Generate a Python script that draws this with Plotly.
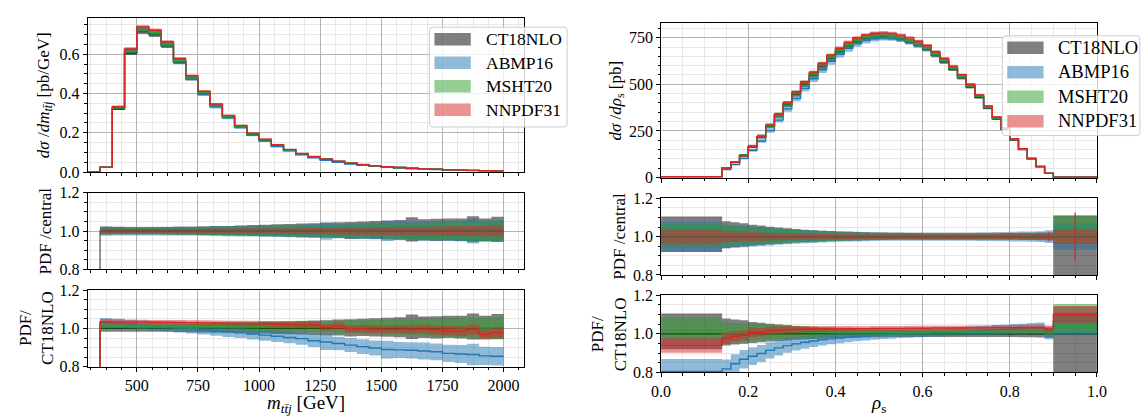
import plotly.graph_objects as go

W, H = 1142, 418

# ---------------- left panel data: m_ttj ----------------
m_edges = [300, 350, 400, 450, 500, 550, 600, 650, 700, 750, 800, 850, 900, 950,
           1000, 1050, 1100, 1150, 1200, 1250, 1300, 1350, 1400, 1450, 1500, 1550,
           1600, 1650, 1700, 1750, 1800, 1850, 1900, 1950, 2000]
ct18_m = [0.0, 0.024, 0.322, 0.607, 0.716, 0.700, 0.643, 0.561, 0.477, 0.400,
          0.337, 0.281, 0.232, 0.193, 0.163, 0.136, 0.113, 0.093, 0.078, 0.065,
          0.054, 0.045, 0.038, 0.032, 0.027, 0.023, 0.019, 0.016, 0.014, 0.012,
          0.010, 0.0085, 0.0072, 0.0062]
abmp_m_ratio = [0.0, 1.028, 1.026, 1.022, 1.018, 1.013, 1.008, 1.003, 0.998, 0.993,
                0.988, 0.982, 0.977, 0.971, 0.965, 0.959, 0.953, 0.947, 0.936, 0.929,
                0.921, 0.913, 0.905, 0.898, 0.890, 0.888, 0.886, 0.882, 0.878, 0.870,
                0.867, 0.864, 0.857, 0.855]
msht_m_ratio = [0.0, 1.015, 1.016, 1.015, 1.014, 1.015, 1.014, 1.013, 1.014, 1.013,
                1.012, 1.013, 1.012, 1.011, 1.012, 1.011, 1.010, 1.011, 1.009, 1.010,
                1.008, 1.009, 1.007, 1.008, 1.006, 1.007, 1.005, 1.006, 1.004, 1.005,
                1.003, 1.004, 1.002, 1.003]
nnpdf_m_ratio = [0.0, 1.035, 1.034, 1.033, 1.033, 1.032, 1.032, 1.031, 1.030, 1.029,
                 1.028, 1.027, 1.026, 1.025, 1.024, 1.022, 1.020, 1.018, 1.018, 1.006,
                 1.012, 0.998, 0.997, 0.996, 0.995, 0.995, 0.994, 0.996, 0.992, 0.988,
                 0.986, 0.994, 0.968, 0.978]
ct18_m_up = [0.0, 0.022, 0.021, 0.020, 0.020, 0.020, 0.021, 0.022, 0.023, 0.024,
             0.026, 0.027, 0.029, 0.031, 0.033, 0.035, 0.037, 0.039, 0.041, 0.043,
             0.046, 0.048, 0.050, 0.053, 0.055, 0.058, 0.072, 0.062, 0.064, 0.066,
             0.066, 0.078, 0.066, 0.075]
ct18_m_dn = [0.0, 0.018, 0.017, 0.017, 0.017, 0.017, 0.018, 0.019, 0.020, 0.021,
             0.022, 0.023, 0.024, 0.026, 0.027, 0.029, 0.030, 0.032, 0.034, 0.035,
             0.037, 0.042, 0.040, 0.042, 0.044, 0.046, 0.055, 0.050, 0.052, 0.050,
             0.052, 0.058, 0.054, 0.056]
abmp_m_rel = [0.0, 0.025, 0.024, 0.023, 0.023, 0.023, 0.023, 0.024, 0.024, 0.025,
              0.026, 0.027, 0.028, 0.029, 0.030, 0.031, 0.032, 0.034, 0.035, 0.045,
              0.038, 0.040, 0.042, 0.043, 0.052, 0.047, 0.048, 0.050, 0.050, 0.052,
              0.054, 0.065, 0.055, 0.057]
msht_m_rel = [0.0, 0.018, 0.017, 0.017, 0.017, 0.017, 0.018, 0.018, 0.019, 0.020,
              0.021, 0.022, 0.023, 0.024, 0.025, 0.026, 0.027, 0.028, 0.029, 0.030,
              0.032, 0.033, 0.034, 0.036, 0.038, 0.040, 0.042, 0.044, 0.046, 0.048,
              0.050, 0.052, 0.053, 0.055]
nnpdf_m_rel = [0.0, 0.013, 0.013, 0.012, 0.012, 0.012, 0.012, 0.012, 0.012, 0.013,
               0.013, 0.013, 0.014, 0.014, 0.014, 0.015, 0.015, 0.016, 0.017, 0.017,
               0.018, 0.019, 0.019, 0.020, 0.021, 0.022, 0.022, 0.023, 0.024, 0.025,
               0.026, 0.027, 0.028, 0.029]
stat_m = [0.0, 0.002, 0.001, 0.001, 0.001, 0.001, 0.001, 0.001, 0.001, 0.0015,
          0.0015, 0.0015, 0.002, 0.002, 0.002, 0.002, 0.0025, 0.0025, 0.003, 0.003,
          0.0035, 0.004, 0.004, 0.0045, 0.005, 0.005, 0.0055, 0.006, 0.006, 0.0065,
          0.007, 0.0075, 0.008, 0.0085]

# ---------------- right panel data: rho_s ----------------
rho_edges = [0.0, 0.14, 0.16, 0.18, 0.20, 0.22, 0.24, 0.26, 0.28, 0.30, 0.32, 0.34,
             0.36, 0.38, 0.40, 0.42, 0.44, 0.46, 0.48, 0.50, 0.52, 0.54, 0.56, 0.58,
             0.60, 0.62, 0.64, 0.66, 0.68, 0.70, 0.72, 0.74, 0.76, 0.78, 0.80, 0.82,
             0.84, 0.86, 0.88, 0.90, 1.0]
ct18_r = [4, 52, 82, 118, 165, 218, 275, 332, 392, 448,
          500, 550, 597, 640, 676, 706, 729, 745, 753, 755,
          752, 743, 728, 710, 688, 655, 620, 580, 535, 485,
          430, 372, 315, 258, 202, 150, 100, 58, 22, 1.5]
abmp_r_ratio = [0.805, 0.818, 0.845, 0.868, 0.884, 0.898, 0.914, 0.927, 0.939, 0.948,
                0.956, 0.963, 0.969, 0.974, 0.978, 0.982, 0.986, 0.989, 0.992, 0.995,
                0.997, 0.999, 1.001, 1.003, 1.005, 1.007, 1.009, 1.011, 1.013, 1.015,
                1.017, 1.019, 1.021, 1.023, 1.025, 1.026, 1.028, 1.030, 1.005, 1.067]
msht_r_ratio = [1.020, 1.000, 1.001, 1.002, 1.004, 1.005, 1.006, 1.007, 1.008, 1.008,
                1.009, 1.009, 1.010, 1.010, 1.010, 1.010, 1.010, 1.010, 1.010, 1.010,
                1.010, 1.010, 1.010, 1.010, 1.010, 1.010, 1.011, 1.011, 1.011, 1.012,
                1.012, 1.012, 1.013, 1.013, 1.014, 1.014, 1.015, 1.015, 1.010, 1.040]
nnpdf_r_ratio = [0.940, 0.978, 0.987, 0.992, 1.008, 1.008, 1.017, 1.020, 1.022, 1.023,
                 1.024, 1.025, 1.025, 1.026, 1.026, 1.027, 1.027, 1.027, 1.028, 1.028,
                 1.028, 1.028, 1.029, 1.029, 1.029, 1.030, 1.030, 1.030, 1.030, 1.031,
                 1.031, 1.031, 1.032, 1.032, 1.032, 1.033, 1.033, 1.033, 1.025, 1.100]
ct18_r_up = [0.105, 0.080, 0.075, 0.070, 0.062, 0.058, 0.052, 0.048, 0.044, 0.040,
             0.036, 0.033, 0.031, 0.029, 0.027, 0.025, 0.024, 0.023, 0.022, 0.021,
             0.020, 0.020, 0.019, 0.019, 0.018, 0.018, 0.018, 0.018, 0.018, 0.018,
             0.018, 0.018, 0.018, 0.019, 0.019, 0.020, 0.020, 0.021, 0.022, 0.110]
ct18_r_dn = [0.080, 0.060, 0.056, 0.052, 0.048, 0.044, 0.040, 0.037, 0.034, 0.031,
             0.029, 0.027, 0.025, 0.023, 0.022, 0.021, 0.020, 0.019, 0.018, 0.018,
             0.017, 0.017, 0.017, 0.016, 0.016, 0.016, 0.016, 0.016, 0.016, 0.016,
             0.016, 0.016, 0.017, 0.017, 0.017, 0.018, 0.018, 0.019, 0.020, 0.300]
abmp_r_rel = [0.080, 0.060, 0.058, 0.055, 0.052, 0.049, 0.046, 0.043, 0.040, 0.037,
              0.035, 0.033, 0.031, 0.029, 0.027, 0.026, 0.025, 0.024, 0.023, 0.022,
              0.022, 0.021, 0.021, 0.021, 0.021, 0.021, 0.021, 0.021, 0.022, 0.022,
              0.023, 0.023, 0.024, 0.024, 0.025, 0.026, 0.027, 0.028, 0.033, 0.070]
msht_r_up = [0.065, 0.058, 0.055, 0.052, 0.049, 0.046, 0.043, 0.040, 0.037, 0.034,
             0.031, 0.029, 0.027, 0.025, 0.023, 0.021, 0.020, 0.019, 0.018, 0.017,
             0.016, 0.016, 0.015, 0.015, 0.015, 0.015, 0.015, 0.015, 0.015, 0.015,
             0.015, 0.015, 0.016, 0.016, 0.016, 0.017, 0.017, 0.018, 0.018, 0.110]
msht_r_dn = [0.050, 0.045, 0.043, 0.041, 0.039, 0.037, 0.035, 0.033, 0.031, 0.029,
             0.027, 0.025, 0.024, 0.022, 0.021, 0.020, 0.019, 0.018, 0.017, 0.016,
             0.016, 0.015, 0.015, 0.015, 0.015, 0.015, 0.015, 0.015, 0.015, 0.015,
             0.015, 0.015, 0.016, 0.016, 0.016, 0.017, 0.017, 0.018, 0.018, 0.040]
nnpdf_r_rel = [0.040, 0.030, 0.028, 0.026, 0.024, 0.022, 0.020, 0.019, 0.018, 0.017,
               0.016, 0.015, 0.014, 0.014, 0.013, 0.013, 0.012, 0.012, 0.012, 0.012,
               0.012, 0.012, 0.012, 0.012, 0.012, 0.012, 0.012, 0.012, 0.012, 0.012,
               0.012, 0.012, 0.013, 0.013, 0.013, 0.014, 0.014, 0.015, 0.016, 0.040]
stat_r = [0.002, 0.003, 0.003, 0.002, 0.002, 0.002, 0.002, 0.002, 0.002, 0.002,
          0.002, 0.002, 0.002, 0.002, 0.002, 0.002, 0.002, 0.002, 0.002, 0.002,
          0.002, 0.002, 0.002, 0.002, 0.002, 0.002, 0.002, 0.002, 0.002, 0.002,
          0.002, 0.003, 0.003, 0.003, 0.004, 0.005, 0.006, 0.008, 0.025, 0.125]

pdf_names = ["CT18NLO", "ABMP16", "MSHT20", "NNPDF31"]
line_colors = ["#000000", "#1f77b4", "#2ca02c", "#d62728"]
band_colors = ["rgba(0,0,0,0.5)", "rgba(31,119,180,0.5)",
               "rgba(44,160,44,0.5)", "rgba(214,39,40,0.5)"]

FONT = "Liberation Serif"


def X(p):
    return p / W


def Y(p):
    return 1 - p / H


def step_y(vals):
    return list(vals) + [vals[-1]]


fig = go.Figure()


def add_band(xa, ya, edges, lo, hi, color):
    fig.add_trace(go.Scatter(x=edges, y=step_y(hi), xaxis=xa, yaxis=ya, mode="lines",
                             line=dict(width=0, shape="hv"), showlegend=False,
                             hoverinfo="skip"))
    fig.add_trace(go.Scatter(x=edges, y=step_y(lo), xaxis=xa, yaxis=ya, mode="lines",
                             line=dict(width=0, shape="hv"), fill="tonexty",
                             fillcolor=color, showlegend=False, hoverinfo="skip"))


def add_line(xa, ya, edges, vals, color, opacity=1.0, width=1.4):
    fig.add_trace(go.Scatter(x=edges, y=step_y(vals), xaxis=xa, yaxis=ya, mode="lines",
                             line=dict(color=color, width=width, shape="hv"),
                             opacity=opacity, showlegend=False, hoverinfo="skip"))


def build_column(edges, ct18, ratios, ups, dns, stat, axes):
    n = len(ct18)
    unit = [1.0 if v > 0 else 0.0 for v in ct18]
    xa_top, ya_top, xa_mid, ya_mid, xa_bot, ya_bot = axes
    # top: absolute distributions
    for i in range(4):
        c = [ct18[k] * ratios[i][k] for k in range(n)]
        lo = [c[k] * (1 - dns[i][k]) for k in range(n)]
        hi = [c[k] * (1 + ups[i][k]) for k in range(n)]
        add_band(xa_top, ya_top, edges, lo, hi, band_colors[i])
        add_line(xa_top, ya_top, edges, c, line_colors[i])
    # middle: each PDF over its own central value
    for i in range(4):
        lo = [unit[k] * (1 - dns[i][k]) for k in range(n)]
        hi = [unit[k] * (1 + ups[i][k]) for k in range(n)]
        add_band(xa_mid, ya_mid, edges, lo, hi, band_colors[i])
    for i in range(4):
        add_line(xa_mid, ya_mid, edges, unit, line_colors[i], opacity=0.3)
    centers = [(edges[k] + edges[k + 1]) / 2 for k in range(n) if unit[k] > 0]
    errs = [stat[k] for k in range(n) if unit[k] > 0]
    fig.add_trace(go.Scatter(x=centers, y=[1.0] * len(centers), xaxis=xa_mid, yaxis=ya_mid,
                             mode="markers", marker=dict(size=1, color="rgba(0,0,0,0)"),
                             error_y=dict(type="data", array=errs, color="#d62728",
                                          thickness=1.2, width=0),
                             showlegend=False, hoverinfo="skip"))
    # bottom: ratio to CT18NLO
    for i in range(4):
        r = ratios[i]
        lo = [r[k] * (1 - dns[i][k]) for k in range(n)]
        hi = [r[k] * (1 + ups[i][k]) for k in range(n)]
        add_band(xa_bot, ya_bot, edges, lo, hi, band_colors[i])
        add_line(xa_bot, ya_bot, edges, r, line_colors[i])


ct18_m_ratio = [1.0 if v > 0 else 0.0 for v in ct18_m]
build_column(m_edges, ct18_m,
             [ct18_m_ratio, abmp_m_ratio, msht_m_ratio, nnpdf_m_ratio],
             [ct18_m_up, abmp_m_rel, msht_m_rel, nnpdf_m_rel],
             [ct18_m_dn, abmp_m_rel, msht_m_rel, nnpdf_m_rel],
             stat_m, ("x", "y", "x2", "y2", "x3", "y3"))

ct18_r_ratio = [1.0 for v in ct18_r]
build_column(rho_edges, ct18_r,
             [ct18_r_ratio, abmp_r_ratio, msht_r_ratio, nnpdf_r_ratio],
             [ct18_r_up, abmp_r_rel, msht_r_up, nnpdf_r_rel],
             [ct18_r_dn, abmp_r_rel, msht_r_dn, nnpdf_r_rel],
             stat_r, ("x4", "y4", "x5", "y5", "x6", "y6"))

MAJOR_GRID = "#b4b4b4"
MINOR_GRID = "#e7e7e7"


def xaxis(dom, anchor, rng, dtick, mdtick, labels, fmt):
    return dict(domain=[X(dom[0]), X(dom[1])], anchor=anchor, range=rng,
                tick0=0, dtick=dtick, ticks="outside", ticklen=4, tickwidth=1,
                tickcolor="black", showticklabels=labels, tickformat=fmt,
                tickfont=dict(family=FONT, size=16, color="black"),
                showgrid=True, gridcolor=MAJOR_GRID, gridwidth=1, zeroline=False,
                showline=True, linecolor="black", linewidth=1, mirror=True,
                minor=dict(tick0=0, dtick=mdtick, ticks="outside", ticklen=2.5,
                           tickcolor="black", showgrid=True, gridcolor=MINOR_GRID,
                           gridwidth=1))


def yaxis(dom, anchor, rng, dtick, mdtick, fmt):
    return dict(domain=[Y(dom[1]), Y(dom[0])], anchor=anchor, range=rng,
                tick0=0, dtick=dtick, ticks="outside", ticklen=4, tickwidth=1,
                tickcolor="black", tickformat=fmt,
                tickfont=dict(family=FONT, size=16, color="black"),
                showgrid=True, gridcolor=MAJOR_GRID, gridwidth=1, zeroline=False,
                showline=True, linecolor="black", linewidth=1, mirror=True,
                minor=dict(tick0=0, dtick=mdtick, ticks="outside", ticklen=2.5,
                           tickcolor="black", showgrid=True, gridcolor=MINOR_GRID,
                           gridwidth=1))


LX = (79, 523.3)
RX = (662.7, 1106.3)
L_rows = [(10, 171), (192.7, 272.3), (294, 374)]
R_rows = [(16, 176.7), (198.3, 278.3), (299.5, 379.8)]
m_range = [299, 2084]
r_range = [0, 1]

layout = dict(
    width=W, height=H, autosize=False,
    margin=dict(l=0, r=0, t=0, b=0, pad=0),
    paper_bgcolor="white", plot_bgcolor="white",
    font=dict(family=FONT, color="black"),
    hovermode=False, showlegend=False,
    xaxis=xaxis(LX, "y", m_range, 250, 62.5, False, "d"),
    xaxis2=xaxis(LX, "y2", m_range, 250, 62.5, False, "d"),
    xaxis3=xaxis(LX, "y3", m_range, 250, 62.5, True, "d"),
    xaxis4=xaxis(RX, "y4", r_range, 0.2, 0.05, False, ".1f"),
    xaxis5=xaxis(RX, "y5", r_range, 0.2, 0.05, False, ".1f"),
    xaxis6=xaxis(RX, "y6", r_range, 0.2, 0.05, True, ".1f"),
    yaxis=yaxis(L_rows[0], "x", [0, 0.787], 0.2, 0.05, ".1f"),
    yaxis2=yaxis(L_rows[1], "x2", [0.8, 1.2], 0.2, 0.05, ".1f"),
    yaxis3=yaxis(L_rows[2], "x3", [0.8, 1.2], 0.2, 0.05, ".1f"),
    yaxis4=yaxis(R_rows[0], "x4", [0, 827], 250, 50, "d"),
    yaxis5=yaxis(R_rows[1], "x5", [0.8, 1.2], 0.2, 0.05, ".1f"),
    yaxis6=yaxis(R_rows[2], "x6", [0.8, 1.2], 0.2, 0.05, ".1f"),
)
fig.update_layout(**layout)

tbar = "t\u0304"
annotations = []


def ytitle(text, px, rows, size=17):
    annotations.append(dict(text=text, x=X(px), y=Y((rows[0] + rows[1]) / 2),
                            xref="paper", yref="paper", showarrow=False,
                            textangle=-90, xanchor="center", yanchor="middle",
                            font=dict(family=FONT, size=size, color="black")))


ytitle("<i>dσ</i> /<i>dm</i><sub><i>t" + tbar + "j</i></sub> [pb/GeV]", 35, L_rows[0])
ytitle("PDF /central", 36, L_rows[1])
ytitle("PDF/<br>CT18NLO", 27, L_rows[2])
ytitle("<i>dσ</i> /<i>dρ</i><sub>s</sub> [pb]", 618, R_rows[0])
ytitle("PDF /central", 620, R_rows[1])
ytitle("PDF/<br>CT18NLO", 610, R_rows[2])

annotations.append(dict(text="<i>m</i><sub><i>t" + tbar + "j</i></sub> [GeV]",
                        x=X(301), y=Y(398), xref="paper", yref="paper", showarrow=False,
                        xanchor="center", yanchor="top",
                        font=dict(family=FONT, size=19, color="black")))
annotations.append(dict(text="<i>ρ</i><sub>s</sub>",
                        x=X(884), y=Y(398), xref="paper", yref="paper", showarrow=False,
                        xanchor="center", yanchor="top",
                        font=dict(family=FONT, size=19, color="black")))

shapes = []


def rrect(x0, y0, x1, y1, r):
    return (f"M {X(x0 + r)},{Y(y0)} L {X(x1 - r)},{Y(y0)} Q {X(x1)},{Y(y0)} {X(x1)},{Y(y0 + r)} "
            f"L {X(x1)},{Y(y1 - r)} Q {X(x1)},{Y(y1)} {X(x1 - r)},{Y(y1)} "
            f"L {X(x0 + r)},{Y(y1)} Q {X(x0)},{Y(y1)} {X(x0)},{Y(y1 - r)} "
            f"L {X(x0)},{Y(y0 + r)} Q {X(x0)},{Y(y0)} {X(x0 + r)},{Y(y0)} Z")


def legend(bx, by, rows_dy, fsize):
    shapes.append(dict(type="path", path=rrect(bx, by, bx + 140, by + 104, 3),
                       xref="paper", yref="paper", fillcolor="rgba(255,255,255,0.8)",
                       line=dict(color="#cccccc", width=1), layer="above"))
    for i, name in enumerate(pdf_names):
        cy = by + 12.5 + i * rows_dy
        shapes.append(dict(type="rect", x0=X(bx + 5), x1=X(bx + 42),
                           y0=Y(cy + 6.5), y1=Y(cy - 6.5), xref="paper", yref="paper",
                           fillcolor=band_colors[i], line=dict(width=0), layer="above"))
        annotations.append(dict(text=name, x=X(bx + 55), y=Y(cy), xref="paper",
                                yref="paper", showarrow=False, xanchor="left",
                                yanchor="middle",
                                font=dict(family=FONT, size=fsize, color="black")))


legend(427, 20, 24.5, 17.5)
legend(1010, 29, 25.5, 18.5)

fig.update_layout(annotations=annotations, shapes=shapes)
fig.write_html("out.html")
